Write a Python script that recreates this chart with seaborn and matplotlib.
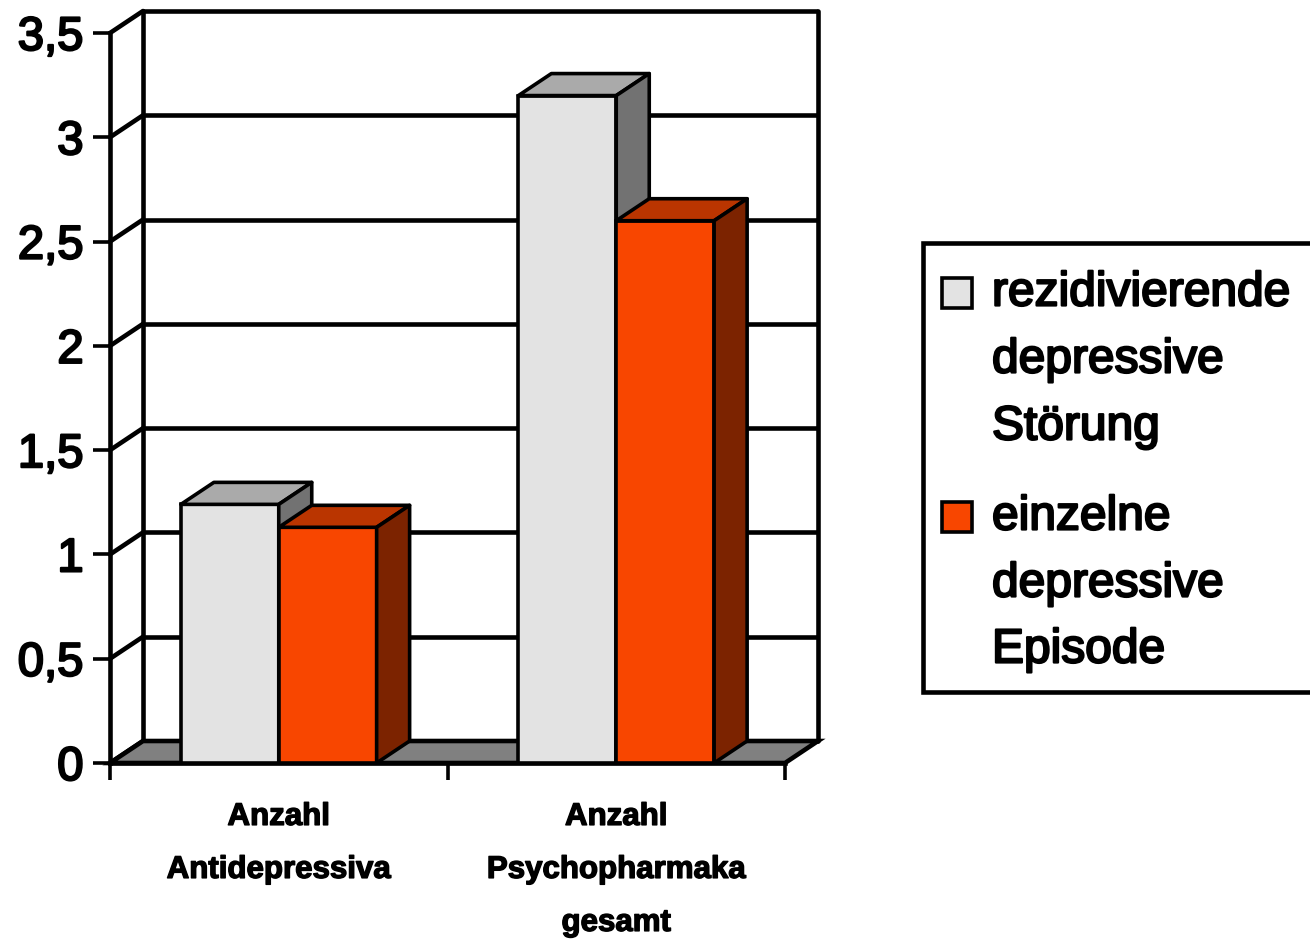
import matplotlib
matplotlib.use("Agg")
import matplotlib.pyplot as plt
import matplotlib.patheffects as pe
from matplotlib.patches import Polygon, Rectangle
import numpy as np
import pandas as pd
import seaborn as sns

# ---- data ----
categories = ["Anzahl\nAntidepressiva", "Anzahl\nPsychopharmaka\ngesamt"]
series_names = ["rezidivierende\ndepressive\nStörung", "einzelne\ndepressive\nEpisode"]
rezidivierend = [1.24, 3.20]
einzeln = [1.13, 2.60]
yticks = [0, 0.5, 1, 1.5, 2, 2.5, 3, 3.5]
ytick_labels = ["0", "0,5", "1", "1,5", "2", "2,5", "3", "3,5"]

colors = ["#E3E3E3", "#F84600"]

df = pd.DataFrame({
    "cat": categories * 2,
    "series": [series_names[0]] * 2 + [series_names[1]] * 2,
    "val": rezidivierend + einzeln,
})

sns.set_theme(style="white")
plt.rcParams["font.family"] = ["Liberation Sans", "DejaVu Sans"]
plt.rcParams["text.color"] = "black"
plt.rcParams["xtick.color"] = "black"
plt.rcParams["ytick.color"] = "black"

W, H = 1310, 941
fig = plt.figure(figsize=(W / 100, H / 100), dpi=100)
fig.patch.set_facecolor("white")
ax = fig.add_axes([110 / W, (H - 763) / H, (785 - 110) / W, (763 - 33) / H])
ax.set_facecolor("none")

EW = 2.6
sns.barplot(data=df, x="cat", y="val", hue="series", order=categories,
            hue_order=series_names, palette=colors, width=0.58, gap=0,
            saturation=1, edgecolor="black", linewidth=EW, legend=False,
            ax=ax, zorder=3)
bars = sorted([p for p in ax.patches if isinstance(p, Rectangle)],
              key=lambda p: p.get_x())

ax.set_xlim(-0.5, 1.5)
ax.set_ylim(0, 3.5)

# depth offsets (pixels -> data units)
ddx = 33 * 2.0 / 675
ddy = 22 * 3.5 / 730
LW = 3.3
x0a, x1a = -0.5, 1.5

# floor
floor = Polygon([(x0a, 0), (x1a, 0), (x1a + ddx, ddy), (x0a + ddx, ddy)],
                closed=True, facecolor="#808080", edgecolor="black",
                linewidth=LW, zorder=1.5, clip_on=False)
ax.add_patch(floor)

# back wall gridlines and side wall diagonals
for v in yticks:
    ax.plot([x0a + ddx, x1a + ddx], [v + ddy, v + ddy], color="black",
            lw=LW, zorder=1, clip_on=False, solid_capstyle="butt")
    ax.plot([x0a, x0a + ddx], [v, v + ddy], color="black", lw=LW,
            zorder=1, clip_on=False)
ax.plot([x0a + ddx, x0a + ddx], [ddy, 3.5 + ddy], color="black", lw=LW,
        zorder=1, clip_on=False)
ax.plot([x1a + ddx, x1a + ddx], [ddy, 3.5 + ddy], color="black", lw=LW,
        zorder=1, clip_on=False)

# 3D faces for bars
for i, p in enumerate(bars):
    z = 3 + i * 0.1
    p.set_zorder(z)
    x0 = p.get_x()
    w = p.get_width()
    h = p.get_height()
    fc = np.array(p.get_facecolor()[:3])
    top = Polygon([(x0, h), (x0 + w, h), (x0 + w + ddx, h + ddy), (x0 + ddx, h + ddy)],
                  closed=True, facecolor=fc * 0.75, edgecolor="black",
                  linewidth=EW, zorder=z, clip_on=False, joinstyle="round")
    side = Polygon([(x0 + w, 0), (x0 + w + ddx, ddy), (x0 + w + ddx, h + ddy), (x0 + w, h)],
                   closed=True, facecolor=fc * 0.5, edgecolor="black",
                   linewidth=EW, zorder=z, clip_on=False, joinstyle="round")
    ax.add_patch(top)
    ax.add_patch(side)

# spines
for s in ["top", "right"]:
    ax.spines[s].set_visible(False)
for s in ["left", "bottom"]:
    ax.spines[s].set_linewidth(LW)
    ax.spines[s].set_color("black")
    ax.spines[s].set_zorder(2)

stroke = [pe.withStroke(linewidth=1.6, foreground="black")]

ax.set_yticks(yticks)
ax.set_yticklabels(ytick_labels, fontsize=34, color="black")
for t in ax.get_yticklabels():
    t.set_path_effects(stroke)
ax.tick_params(axis="y", direction="out", length=12, width=2.6, pad=7, left=True,
               colors="black")

ax.set_xticks([-0.5, 0.5, 1.5])
ax.set_xticklabels(["", "", ""])
ax.tick_params(axis="x", which="major", direction="out", length=12, width=2.6,
               bottom=True, colors="black")
ax.set_xticks([0, 1], minor=True)
ax.set_xticklabels(categories, minor=True, fontsize=22.5, fontweight="bold",
                   linespacing=2.0, color="black")
for t in ax.get_xticklabels(minor=True):
    t.set_path_effects([pe.withStroke(linewidth=1.0, foreground="black")])
ax.tick_params(axis="x", which="minor", length=0, pad=28, labelcolor="black")
ax.set_xlabel("")
ax.set_ylabel("")

# legend (manual, figure pixel coordinates)
def fx(x):
    return x / W

def fy(y):
    return 1 - y / H

box = Rectangle((fx(923), fy(692)), fx(1400) - fx(923), fy(243) - fy(692),
                transform=fig.transFigure, facecolor="white", edgecolor="black",
                linewidth=LW, zorder=10, clip_on=False)
fig.add_artist(box)

group_centers = [[293, 360, 427], [517, 584, 650]]
for name, col, centers in zip(series_names, colors, group_centers):
    c = centers[0]
    sq = Rectangle((fx(942), fy(c + 15)), fx(972) - fx(942), fy(c - 15) - fy(c + 15),
                   transform=fig.transFigure, facecolor=col, edgecolor="black",
                   linewidth=2.6, zorder=11)
    fig.add_artist(sq)
    for line, cy in zip(name.split("\n"), centers):
        t = fig.text(fx(992), fy(cy), line, fontsize=34.5, va="center", ha="left",
                     color="black", zorder=12)
        t.set_path_effects(stroke)

fig.savefig("out.png", dpi=100, facecolor="white")
